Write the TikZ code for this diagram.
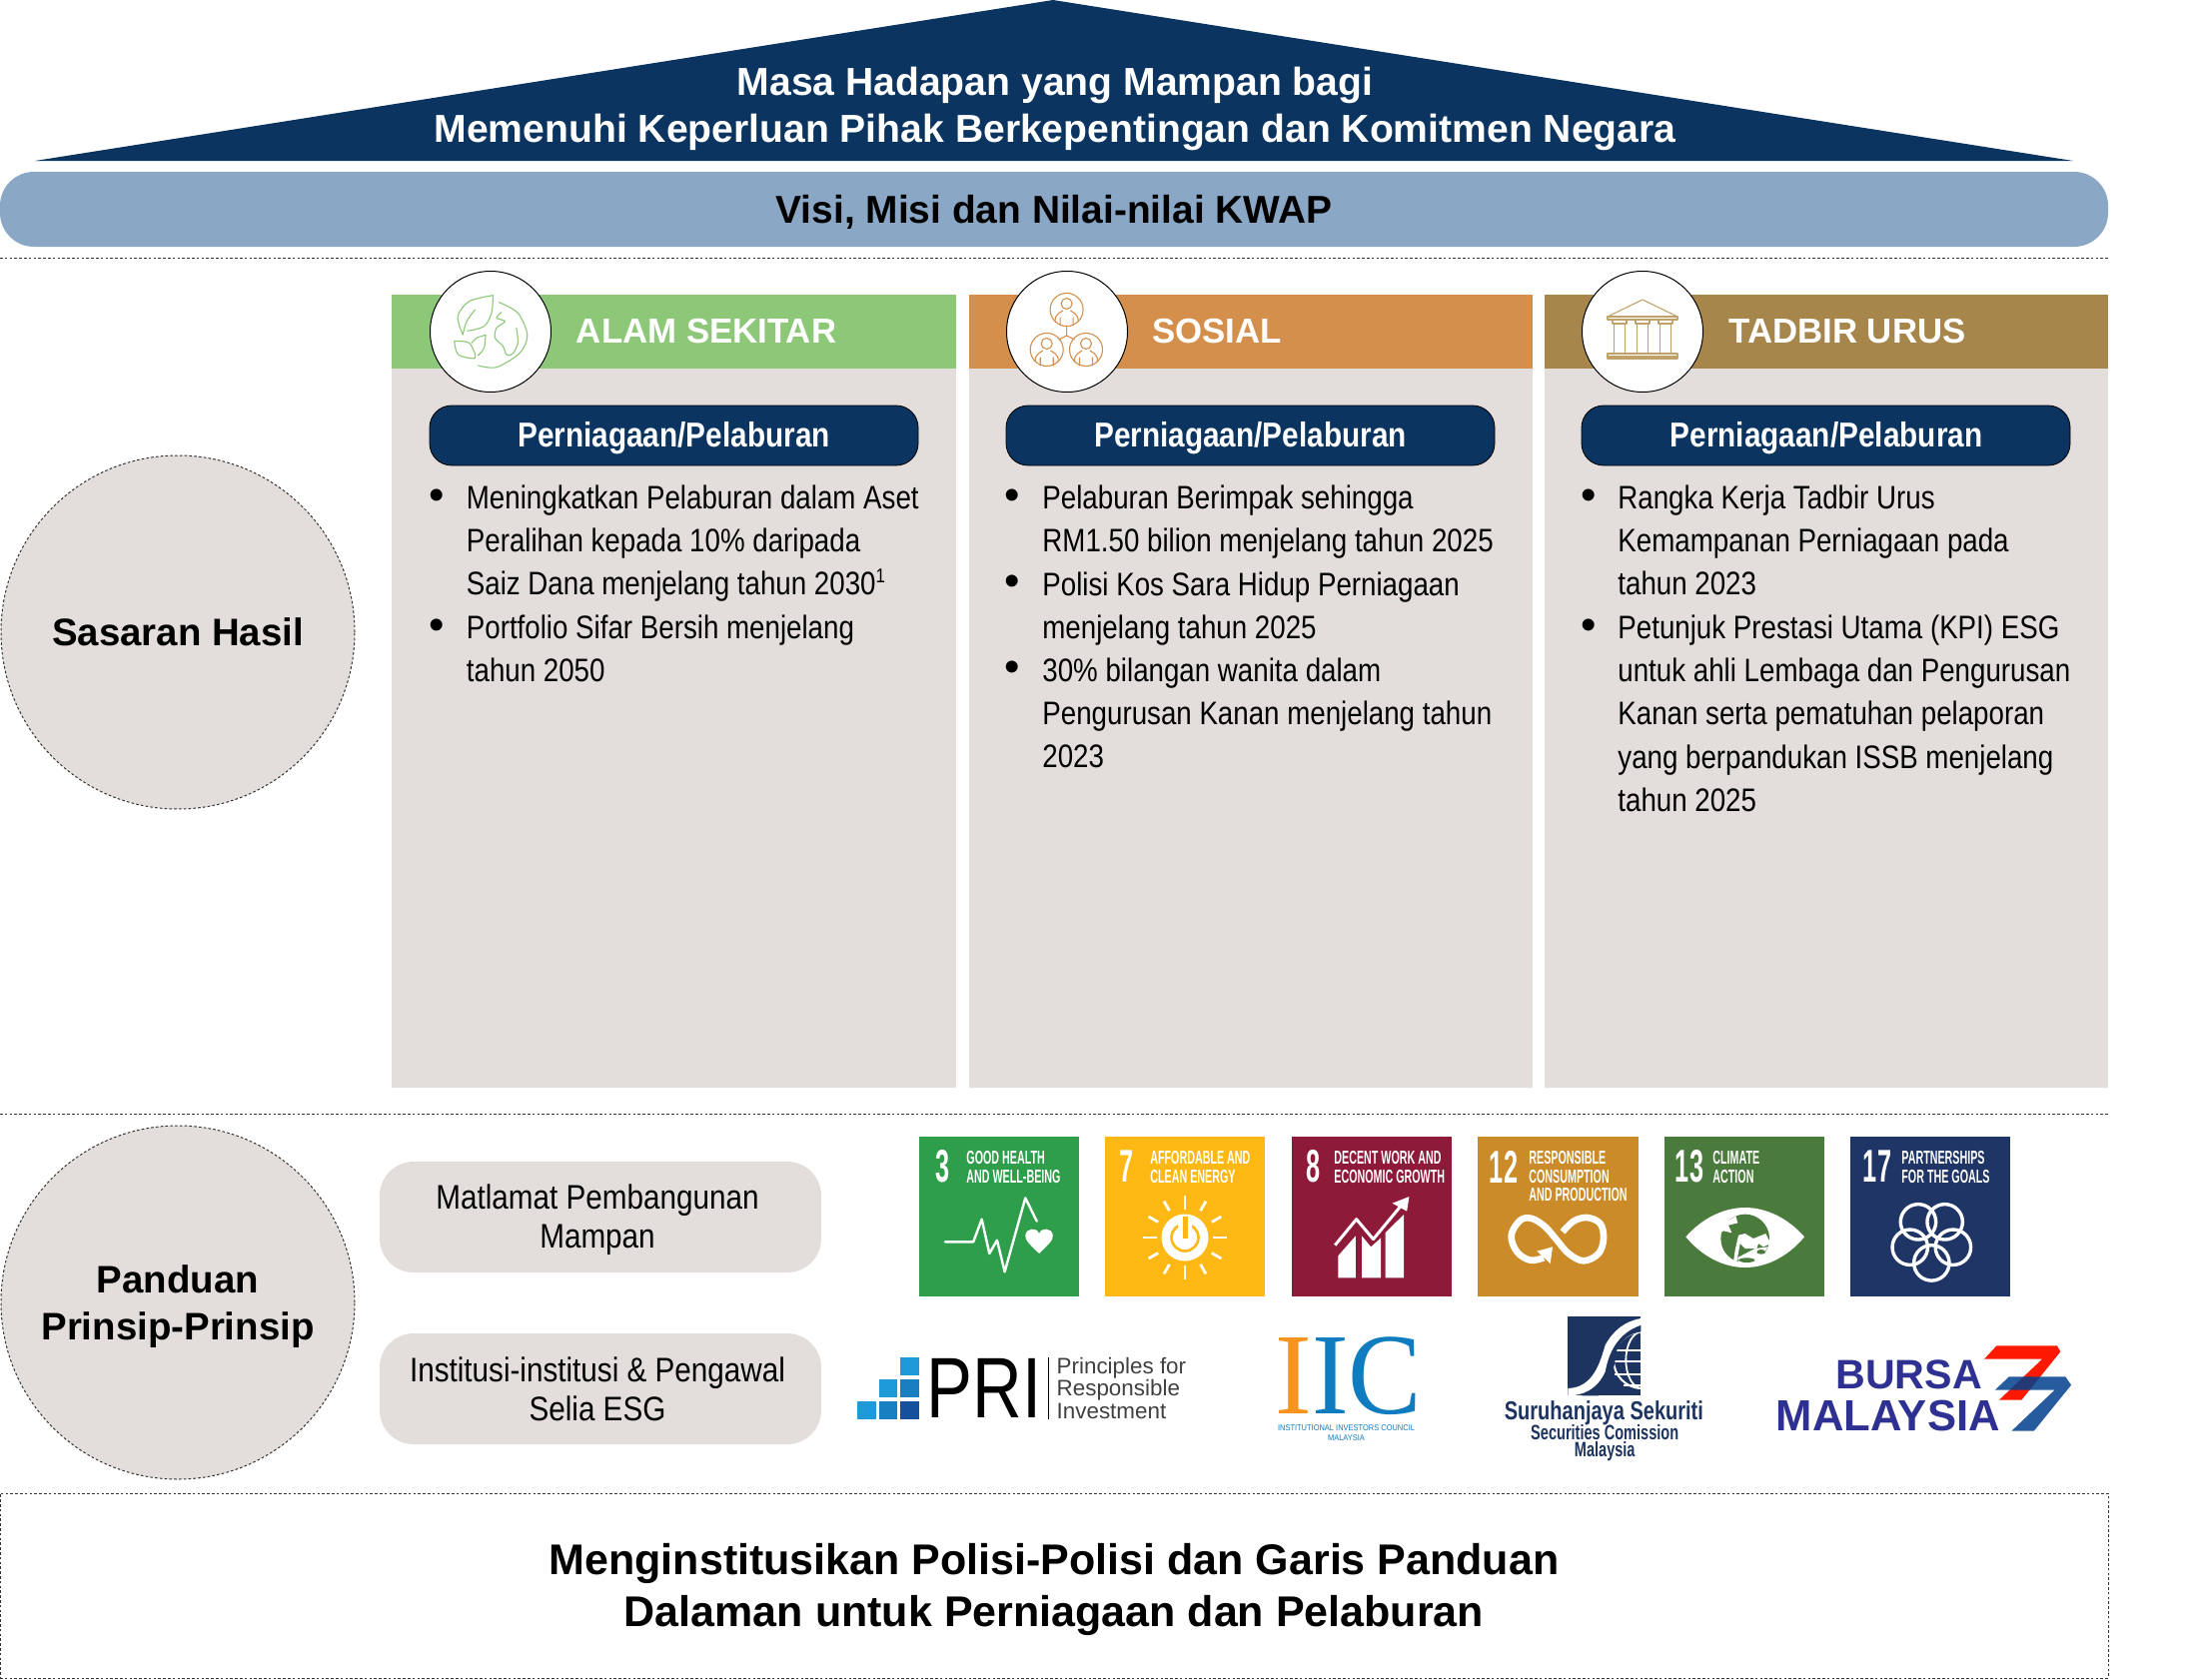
\documentclass[tikz,border=0pt]{standalone}
\usepackage{fontspec}
\setmainfont{Liberation Sans}
\newfontfamily\bodyf[FakeStretch=0.85]{Liberation Sans}
\newfontfamily\softf[FakeStretch=0.87]{Liberation Sans}
\newfontfamily\pillf[FakeStretch=0.86]{Liberation Sans}
\newfontfamily\sdgf[FakeStretch=0.57]{Liberation Sans}
\newfontfamily\sdgn[FakeStretch=0.55]{Liberation Sans}
\newfontfamily\logof[FakeStretch=0.8]{Liberation Sans}
\newfontfamily\scf[FakeStretch=0.77]{Liberation Sans}
\newfontfamily\scg[FakeStretch=0.70]{Liberation Sans}
\newfontfamily\iicf[FakeStretch=0.95]{Liberation Serif}
\newfontfamily\tinyf[FakeStretch=0.89]{Liberation Sans}
\definecolor{navy}{HTML}{0B3560}
\definecolor{barblue}{HTML}{8BA7C6}
\definecolor{bodygrey}{HTML}{E3DEDC}
\definecolor{envgreen}{HTML}{8DC878}
\definecolor{socorange}{HTML}{D48F4D}
\definecolor{govgold}{HTML}{A6864B}
\definecolor{icongold}{HTML}{BFA26A}
\definecolor{sdgA}{HTML}{2F9E4B}
\definecolor{sdgB}{HTML}{FDB813}
\definecolor{sdgC}{HTML}{8E1A39}
\definecolor{sdgD}{HTML}{CB8B28}
\definecolor{sdgE}{HTML}{4A7A3C}
\definecolor{sdgF}{HTML}{1E3566}
\definecolor{scnavy}{HTML}{1D3461}
\definecolor{bursa}{HTML}{2E3192}
\definecolor{iicblue}{HTML}{0F7CBF}
\definecolor{iicorange}{HTML}{F7941D}
\definecolor{priA}{HTML}{1C9BD8}
\definecolor{priB}{HTML}{1A7FC1}
\definecolor{priC}{HTML}{164F9A}
\tikzset{
  box/.style={rectangle,inner sep=0pt,outer sep=0pt},
  dotline/.style={draw=black!80,line width=0.5pt,dash pattern=on 1.3pt off 1.1pt},
  headtxt/.style={anchor=west,inner sep=0pt,text=white,font=\bfseries\fontsize{17.4}{20}\selectfont},
  pillbox/.style={fill=navy,draw=black,line width=0.4pt,rounded corners=11pt},
  pilltxt/.style={inner sep=0pt,text=white,font=\pillf\bfseries\fontsize{17.3}{20}\selectfont},
  bodytxt/.style={anchor=north west,inner sep=0pt,align=left,font=\bodyf\fontsize{16.3}{21.7}\selectfont},
  bullettxt/.style={inner sep=0pt,font=\fontsize{22}{24}\selectfont},
  sidetxt/.style={align=center,inner sep=0pt,font=\bfseries\fontsize{19.2}{23.4}\selectfont},
  softtxt/.style={align=center,inner sep=0pt,font=\softf\fontsize{17.05}{19.4}\selectfont},
  sdglabel/.style={anchor=west,align=left,inner sep=0pt,text=white,font=\sdgf\bfseries\fontsize{9.4}{9.25}\selectfont},
  sdgnum/.style={inner sep=0pt,text=white,font=\sdgn\bfseries\fontsize{23}{23}\selectfont},
  iconline/.style={line width=0.55pt,line join=round,line cap=round},
  whiteline/.style={draw=white,line join=round,line cap=round},
  realzoom/.style={x=0.16667pt,y=-0.16667pt},
}
\newcommand{\boxat}[7][]{%
  \node[box,#7,minimum width={(#4-#2)*0.5pt},minimum height={(#5-#3)*0.5pt}] (#1) at ({(#2+#4)/2},{(#3+#5)/2}) {#6};}
\newcommand{\personicon}[2]{%
  \draw[iconline,socorange] (#1,#2) circle (16.5);
  \draw[iconline,socorange] (#1,#2-6) circle (5.5);
  \draw[iconline,socorange] (#1-11.5,#2+12) .. controls (#1-12,#2+4) and (#1-6,#2+3) .. (#1-4,#2+1)
     (#1+11.5,#2+12) .. controls (#1+12,#2+4) and (#1+6,#2+3) .. (#1+4,#2+1)
     (#1-6.5,#2+8) -- (#1-6.5,#2+16) (#1+6.5,#2+8) -- (#1+6.5,#2+16);}
\begin{document}
\begin{tikzpicture}[x=0.5pt,y=-0.5pt]
\useasboundingbox (0,0) rectangle (2210,1681);
% roof
\fill[navy] (35,161) -- (1054,0) -- (2075,161) -- cycle;
\node[align=center,inner sep=0pt,text=white,font=\bfseries\fontsize{19.55}{23.2}\selectfont] (rooftxt) at (1056,109) {Masa Hadapan yang Mampan bagi\\Memenuhi Keperluan Pihak Berkepentingan dan Komitmen Negara};
% vision bar
\boxat[visi]{0}{172}{2110}{247}{}{fill=barblue,rounded corners=17pt}
\node[inner sep=0pt,font=\bfseries\fontsize{19.45}{24}\selectfont] (visitxt) at (1055,212) {Visi, Misi dan Nilai-nilai KWAP};
\draw[dotline] (0,258) -- (2110,258);
% columns
\boxat[bodyA]{392}{369}{957}{1089}{}{fill=bodygrey}
\boxat[bodyB]{970}{369}{1534}{1089}{}{fill=bodygrey}
\boxat[bodyC]{1546}{369}{2110}{1089}{}{fill=bodygrey}
\boxat[headA]{392}{295}{957}{369}{}{fill=envgreen}
\boxat[headB]{970}{295}{1534}{369}{}{fill=socorange}
\boxat[headC]{1546}{295}{2110}{369}{}{fill=govgold}
\node[headtxt] (htA) at (576.5,332) {ALAM SEKITAR};
\node[headtxt] (htB) at (1153,332) {SOSIAL};
\node[headtxt] (htC) at (1730,332) {TADBIR URUS};
\foreach \n/\cx in {circA/491,circB/1068,circC/1644}{
  \node[circle,draw=black,fill=white,line width=0.5pt,minimum size=60.5pt,inner sep=0pt] (\n) at (\cx,332) {};
}
% earth icon
\begin{scope}[shift={(390,260)},x=0.24876pt,y=-0.16667pt,envgreen]
  \draw[iconline] plot[smooth] coordinates {(220,128) (258,160) (277,226) (262,280) (215,323) (178,318)};
  \draw[iconline] plot[smooth] coordinates {(225,158) (215,175) (232,185) (215,205) (212,235) (228,260) (235,285) (247,283) (258,250) (255,205)};
  \draw[iconline] plot[smooth] coordinates {(208,107) (160,125) (137,170) (147,225)};
  \draw[iconline] plot[smooth] coordinates {(208,107) (205,160) (190,200) (157,214)};
  \draw[iconline] plot[smooth] coordinates {(172,150) (155,185) (147,225)};
  \draw[iconline] plot[smooth] coordinates {(130,245) (160,250) (172,295) (138,285) (130,245)};
  \draw[iconline] plot[smooth] coordinates {(193,226) (190,265) (178,287)};
  \draw[iconline] plot[smooth] coordinates {(193,226) (175,235) (165,250)};
\end{scope}
% people icon
\personicon{1067.6}{310}
\personicon{1047.7}{350}
\personicon{1087}{350}
\draw[iconline,socorange] (1067.6,326.5) -- (1067.6,336) -- (1059.5,340) (1067.6,336) -- (1075.5,340);
% temple icon
\begin{scope}[iconline,icongold]
  \draw (1609,317) -- (1644,300) -- (1679,317) -- cycle;
  \draw (1609,317) rectangle (1679,320);
  \foreach \c in {1621,1644,1667}{
    \draw (\c-7,320) rectangle (\c+7,324);
    \draw (\c-5.5,324) -- (\c-5.5,354) (\c+5.5,324) -- (\c+5.5,354);
  }
  \draw (1609,354) rectangle (1679,359);
  \draw (1609,357) -- (1679,357);
\end{scope}
% pills
\boxat[pillA]{430}{406}{919}{466}{}{pillbox}
\boxat[pillB]{1007}{406}{1496}{466}{}{pillbox}
\boxat[pillC]{1583}{406}{2072}{466}{}{pillbox}
\node[pilltxt] (ptA) at (674.5,439) {Perniagaan/Pelaburan};
\node[pilltxt] (ptB) at (1251.5,439) {Perniagaan/Pelaburan};
\node[pilltxt] (ptC) at (1828,439) {Perniagaan/Pelaburan};
% column text
\node[bullettxt] (bA1) at (437,500) {•};
\node[bodytxt] (tA1) at (466.5,485) {Meningkatkan Pelaburan dalam Aset\\Peralihan kepada 10\% daripada\\Saiz Dana menjelang tahun 2030\textsuperscript{\fontsize{10}{10}\selectfont 1}};
\node[bullettxt] (bA2) at (437,630) {•};
\node[bodytxt] (tA2) at (466.5,615) {Portfolio Sifar Bersih menjelang\\tahun 2050};
\node[bullettxt] (bB1) at (1013,500) {•};
\node[bodytxt] (tB1) at (1043,485) {Pelaburan Berimpak sehingga\\RM1.50 bilion menjelang tahun 2025};
\node[bullettxt] (bB2) at (1013,586) {•};
\node[bodytxt] (tB2) at (1043,572) {Polisi Kos Sara Hidup Perniagaan\\menjelang tahun 2025};
\node[bullettxt] (bB3) at (1013,672) {•};
\node[bodytxt] (tB3) at (1043,658) {30\% bilangan wanita dalam\\Pengurusan Kanan menjelang tahun\\2023};
\node[bullettxt] (bC1) at (1590,500) {•};
\node[bodytxt] (tC1) at (1619,485) {Rangka Kerja Tadbir Urus\\Kemampanan Perniagaan pada\\tahun 2023};
\node[bullettxt] (bC2) at (1590,630) {•};
\node[bodytxt] (tC2) at (1619,615) {Petunjuk Prestasi Utama (KPI) ESG\\untuk ahli Lembaga dan Pengurusan\\Kanan serta pematuhan pelaporan\\yang berpandukan ISSB menjelang\\tahun 2025};
% side circles
\node[circle,dotline,fill=bodygrey,minimum size=177pt,inner sep=0pt] (sasaran) at (178,633) {};
\node[sidetxt] (sasarantxt) at (178,633) {Sasaran Hasil};
\draw[dotline] (0,1115) -- (2110,1115);
\node[circle,dotline,fill=bodygrey,minimum size=177pt,inner sep=0pt] (panduan) at (178,1304) {};
\node[sidetxt] (pandutxt) at (178,1308) {Panduan\\Prinsip-Prinsip};
% soft boxes
\boxat[softA]{380}{1163}{822}{1274}{}{fill=bodygrey,rounded corners=17pt}
\boxat[softB]{380}{1335}{822}{1446}{}{fill=bodygrey,rounded corners=17pt}
\node[softtxt] (softAt) at (598,1221) {Matlamat Pembangunan\\Mampan};
\node[softtxt] (softBt) at (598,1391) {Institusi-institusi \& Pengawal\\Selia ESG};
% SDG tiles
\boxat[sdgtA]{920}{1138}{1080}{1298}{}{fill=sdgA}
\boxat[sdgtB]{1106}{1138}{1266}{1298}{}{fill=sdgB}
\boxat[sdgtC]{1293}{1138}{1453}{1298}{}{fill=sdgC}
\boxat[sdgtD]{1479}{1138}{1640}{1298}{}{fill=sdgD}
\boxat[sdgtE]{1666}{1138}{1826}{1298}{}{fill=sdgE}
\boxat[sdgtF]{1852}{1138}{2012}{1298}{}{fill=sdgF}
\node[sdgnum] (nA) at (944,1168) {3};
\node[sdgnum] (nB) at (1128,1168) {7};
\node[sdgnum] (nC) at (1315,1168) {8};
\node[sdgnum] (nD) at (1505,1168) {12};
\node[sdgnum] (nE) at (1691,1168) {13};
\node[sdgnum] (nF) at (1879,1168) {17};
\node[sdglabel] (lA) at (967,1168.5) {GOOD HEALTH\\AND WELL-BEING};
\node[sdglabel] (lB) at (1151,1168.5) {AFFORDABLE AND\\CLEAN ENERGY};
\node[sdglabel] (lC) at (1335,1168.5) {DECENT WORK AND\\ECONOMIC GROWTH};
\node[sdglabel] (lD) at (1530,1178) {RESPONSIBLE\\CONSUMPTION\\AND PRODUCTION};
\node[sdglabel] (lE) at (1714,1168.5) {CLIMATE\\ACTION};
\node[sdglabel] (lF) at (1903,1168.5) {PARTNERSHIPS\\FOR THE GOALS};
% SDG icons
\begin{scope}[shift={(900,1130)},x=0.38265pt,y=-0.16667pt]
  \draw[whiteline,line width=1.2pt] (60,340) -- (97,340) -- (108,272) -- (118,375) -- (128,335) -- (138,430) -- (165,208) -- (180,278);
  \fill[white] (183,375) .. controls (172,350) and (164,335) .. (165,320) .. controls (166,298) and (180,295) .. (183,315) .. controls (186,295) and (200,298) .. (201,320) .. controls (202,335) and (194,350) .. (183,375) -- cycle;
  \fill[white] (574,382) -- (597,322) -- (597,448) -- (574,448) -- cycle;
  \fill[white] (605,322) -- (617,355) -- (630,328) -- (630,448) -- (605,448) -- cycle;
  \fill[white] (636,312) -- (660,258) -- (660,448) -- (636,448) -- cycle;
  \draw[whiteline,line width=1.5pt,line cap=butt] (570,350) -- (598,272) -- (620,332) -- (655,235);
  \fill[white] (667,204) -- (645,224) -- (664,248) -- cycle;
\end{scope}
% infinity
\begin{scope}[shift={(1490,1200)},realzoom]
  \draw[whiteline,line width=3.3pt,line cap=butt] plot[smooth,tension=0.6] coordinates {(222,100) (255,68) (295,57) (335,75) (345,120) (330,165) (285,187) (240,165) (205,125) (170,85) (130,60) (95,65) (68,110) (85,160) (125,185) (165,178)};
  \fill[white] (192,145) -- (145,158) -- (185,195) -- cycle;
\end{scope}
% eye
\begin{scope}[shift={(1680,1195)},realzoom]
  \fill[white] (22,130) .. controls (70,75) and (135,42) .. (200,42) .. controls (265,42) and (330,75) .. (378,130) .. controls (330,188) and (265,222) .. (200,222) .. controls (135,222) and (70,188) .. (22,130) -- cycle;
  \fill[sdgE] (200,135) circle (73);
  \fill[white] (125,118) -- (135,90) -- (172,68) -- (178,88) -- (150,95) -- (160,118) -- (135,112) -- cycle;
  \fill[white] (180,125) -- (200,120) -- (225,135) -- (262,120) -- (277,150) -- (255,160) -- (240,150) -- (235,165) -- (200,165) -- (185,150) -- (175,205) -- (165,205) -- (170,170) -- cycle;
  \fill[white] (178,192) -- (230,165) -- (268,160) -- (245,200) -- (205,214) -- (180,210) -- cycle;
  \fill[sdgE] (205,200) ellipse [x radius=24,y radius=7];
  \fill[sdgE] (248,175) ellipse [x radius=13,y radius=7];
\end{scope}
% sun
\fill[white] (1186,1239) circle (23.5);
\draw[sdgB,line width=1.3pt] (1186,1239) circle (13.5);
\fill[white] (1179,1217) rectangle (1193,1236);
\fill[sdgB] (1183.5,1218) rectangle (1188.5,1240);
\foreach \a in {0,90,180,270}{\draw[whiteline,line width=1.4pt,line cap=butt] (1186,1239) ++(\a:28) -- ++(\a:14);}
\foreach \a in {30,60,120,150,210,240,300,330}{\draw[whiteline,line width=1.4pt,line cap=butt] (1186,1239) ++(\a:31) -- ++(\a:11);}
% partnership flower
\foreach \a in {90,162,234,306,18}{\draw[whiteline,line width=1.7pt] (1933.3,1241.7) ++(\a:22.7) circle (17.7);}
% logos
\begin{scope}[shift={(850,1320)},x=0.41459pt,y=-0.16667pt]
  \fill[priA] (10,248) rectangle (32,302);
  \fill[priB] (36,248) rectangle (58,302);
  \fill[priC] (62,248) rectangle (84,302);
  \fill[priA] (36,183) rectangle (58,236);
  \fill[priB] (62,183) rectangle (84,236);
  \fill[priA] (62,118) rectangle (84,170);
  \node[inner sep=0pt,font=\logof\fontsize{43}{42}\selectfont] (pritxt) at (163,210) {PRI};
  \draw[line width=0.5pt] (240,118) -- (240,302);
  \node[anchor=west,align=left,inner sep=0pt,text=black!75,font=\fontsize{11.2}{11.25}\selectfont] (pridesc) at (250,209) {Principles for\\Responsible\\Investment};
  \node[inner sep=0pt,font=\iicf\fontsize{58}{60}\selectfont] (iic) at (603,172) {\textcolor{iicorange}{I}\textcolor{iicblue}{IC}};
  \node[inner sep=0pt,align=center,text=iicblue,font=\tinyf\fontsize{4.2}{4.6}\selectfont] (iicsub) at (600,344) {INSTITUTIONAL INVESTORS COUNCIL\\MALAYSIA};
\end{scope}
% Securities Commission emblem
\begin{scope}[shift={(1560,1310)},realzoom]
  \fill[scnavy] (28,25) rectangle (247,262);
  \begin{scope}
    \clip (28,25) rectangle (247,262);
    \draw[white,line width=1pt] (250,155) circle (85);
    \draw[white,line width=0.9pt] (250,155) ellipse [x radius=48,y radius=85];
    \draw[white,line width=0.9pt] (165,125) -- (247,125) (160,160) -- (247,160) (168,197) -- (247,197) (195,232) -- (247,232);
    \fill[scnavy] (247,50) .. controls (205,60) and (175,85) .. (155,125) .. controls (145,190) and (115,235) .. (70,262) -- (120,262) .. controls (155,235) and (165,190) .. (175,125) .. controls (190,90) and (215,75) .. (247,70) -- cycle;
    \fill[white] (247,30) .. controls (200,38) and (165,65) .. (140,110) .. controls (125,160) and (105,238) .. (28,240) -- (28,262) .. controls (70,262) and (115,245) .. (140,190) .. controls (150,135) and (175,75) .. (247,50) -- cycle;
  \end{scope}
\end{scope}
\begin{scope}[shift={(850,1320)},x=0.41459pt,y=-0.16667pt]
  \node[inner sep=0pt,text=scnavy,font=\scf\bfseries\fontsize{13}{13}\selectfont] (sctxtA) at (911,283) {Suruhanjaya Sekuriti};
  \node[inner sep=0pt,text=scnavy,font=\scg\bfseries\fontsize{10.4}{10}\selectfont] (sctxtB) at (912,342) {Securities Comission};
  \node[inner sep=0pt,text=scnavy,font=\scg\bfseries\fontsize{10.4}{10}\selectfont] (sctxtC) at (912,400) {Malaysia};
  % Bursa
  \node[inner sep=0pt,text=bursa,font=\bfseries\fontsize{20.6}{22}\selectfont] (bursaA) at (1279,170) {BURSA};
  \node[inner sep=0pt,text=bursa,font=\bfseries\fontsize{21.8}{22}\selectfont] (bursaB) at (1254,292) {MALAYSIA};
  \fill[red!80!orange] (1385,82) -- (1458,82) -- (1462,100) -- (1415,245) -- (1388,245) -- (1440,122) -- (1370,122) -- cycle;
  \fill[blue!55!cyan!55!black,opacity=0.85] (1400,175) -- (1468,175) -- (1475,200) -- (1430,338) -- (1403,338) -- (1455,215) -- (1383,215) -- cycle;
\end{scope}
% bottom box
\node[box,dotline,minimum width=1055pt,minimum height=92.5pt] (polisi) at (1055,1587.5) {};
\node[align=center,inner sep=0pt,font=\bfseries\fontsize{21.5}{26.2}\selectfont] (polisitxt) at (1055,1591.5) {Menginstitusikan Polisi-Polisi dan Garis Panduan\\Dalaman untuk Perniagaan dan Pelaburan};
\end{tikzpicture}
\end{document}
